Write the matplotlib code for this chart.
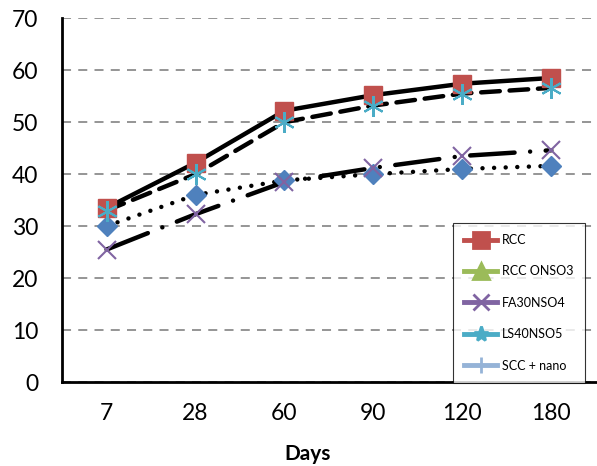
import matplotlib
matplotlib.use("Agg")
import matplotlib.pyplot as plt
from matplotlib.lines import Line2D

days = ["7", "28", "60", "90", "120", "180"]
rcc = [33.5, 42.2, 52.2, 55.2, 57.4, 58.5]
ls40nso5 = [33.0, 40.0, 50.0, 53.2, 55.5, 56.6]
fa30nso4 = [25.5, 32.3, 38.5, 41.2, 43.5, 44.6]
scc_diamond = [30.0, 36.0, 38.8, 40.0, 41.0, 41.6]

legend_labels = ["RCC", "RCC ONSO3", "FA30NSO4", "LS40NSO5", "SCC + nano"]
legend_colors = ["#C0504D", "#9BBB59", "#8064A2", "#4BACC6", "#95B3D7"]
legend_markers = ["s", "^", "x", "*", "+"]

plt.rcParams['font.family'] = ['Lato', 'DejaVu Sans']

fig = plt.figure(figsize=(5.97, 4.66), dpi=100)
ax = fig.add_axes([0.104, 0.180, 0.894, 0.781])

x = list(range(len(days)))
lw = 3.2

# lines (black)
ax.plot(x, scc_diamond, color='black', lw=lw, linestyle=(0, (0.01, 2.6)),
        dash_capstyle='round', zorder=3)
ax.plot(x, fa30nso4, color='black', lw=lw, linestyle=(0, (10, 3.5, 0.01, 3.5)),
        dash_capstyle='round', zorder=3)
ax.plot(x, ls40nso5, color='black', lw=lw, linestyle=(0, (4.2, 2.2)),
        dash_capstyle='round', zorder=3)
ax.plot(x, rcc, color='black', lw=lw, linestyle='-', zorder=3)

# markers
ax.plot(x, scc_diamond, ls='none', marker='D', ms=10, color='#4F81BD', zorder=4)
ax.plot(x, fa30nso4, ls='none', marker='x', ms=13, mew=1.5, color='#8064A2', zorder=4)
ax.plot(x, rcc, ls='none', marker='s', ms=13, color='#C0504D', zorder=4)
ax.plot(x, ls40nso5, ls='none', marker=(6, 2, 0), ms=15, mew=1.5, color='#4BACC6', zorder=5)

ax.set_xlim(-0.5, len(days) - 0.5)
ax.set_ylim(0, 70)
ax.set_yticks(range(0, 71, 10))
ax.set_xticks(x)
ax.set_xticklabels(days)
ax.tick_params(axis='both', labelsize=16.5, length=0)
ax.tick_params(axis='y', pad=17)
ax.tick_params(axis='x', pad=15)
ax.set_xlabel("Days", fontsize=15, fontweight='bold')
ax.xaxis.set_label_coords(0.46, -0.17)

ax.yaxis.grid(True, color='#8C8C8C', linestyle=(0, (5, 4)), lw=1.3)
ax.set_axisbelow(True)
for s in ['top', 'right']:
    ax.spines[s].set_visible(False)
for s in ['left', 'bottom']:
    ax.spines[s].set_linewidth(2)

handles = [Line2D([0], [0], color=c, lw=3.5, marker=m, ms=11, mew=2)
           for c, m in zip(legend_colors, legend_markers)]
leg = ax.legend(handles, legend_labels, loc='lower right',
                bbox_to_anchor=(0.979, -0.002), fontsize=9, frameon=True,
                fancybox=False, edgecolor='black', labelspacing=1.55,
                handlelength=2.6, handletextpad=0.4, borderpad=0.9,
                borderaxespad=0)
leg.get_frame().set_linewidth(0.8)
leg.set_zorder(10)

fig.savefig("out.png", dpi=100)
